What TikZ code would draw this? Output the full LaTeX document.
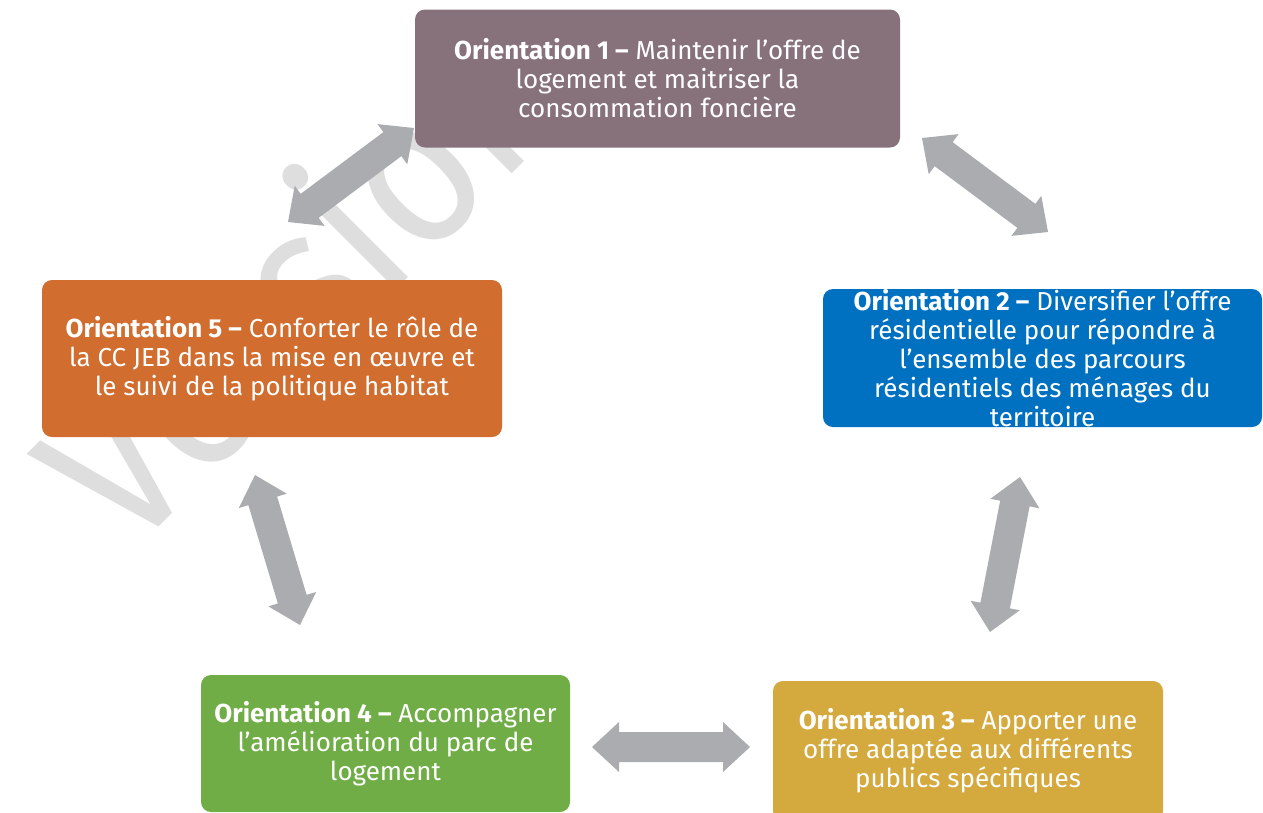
\documentclass[tikz,border=0pt]{standalone}
\usepackage{fontspec}
\setmainfont{Fira Sans}
\usetikzlibrary{calc}
\definecolor{cmauve}{HTML}{87717B}
\definecolor{cblue}{HTML}{0070C0}
\definecolor{cgold}{HTML}{D4A93D}
\definecolor{cgreen}{HTML}{70AD47}
\definecolor{corange}{HTML}{D06D2F}
\definecolor{carrow}{HTML}{ABACB0}
\definecolor{cwm}{HTML}{DEDEDE}
\newcommand\dblarr[2]{%
  \coordinate (h1) at ($(#1)!27pt!(#2)$);
  \coordinate (h2) at ($(#2)!27pt!(#1)$);
  \fill[arrowfill] (#1) -- ($(h1)!25pt!90:(#2)$) -- ($(h1)!15pt!90:(#2)$)
    -- ($(h2)!15pt!-90:(#1)$) -- ($(h2)!25pt!-90:(#1)$) -- (#2)
    -- ($(h2)!25pt!90:(#1)$) -- ($(h2)!15pt!90:(#1)$)
    -- ($(h1)!15pt!-90:(#2)$) -- ($(h1)!25pt!-90:(#2)$) -- cycle;
}
\begin{document}
\begin{tikzpicture}[x=1pt,y=-1pt,
  box/.style={rounded corners=10pt, inner sep=0pt, align=center, text=white,
    font=\fontsize{26}{29}\selectfont},
  arrowfill/.style={fill=carrow},
  wm/.style={text=cwm, font=\fontsize{210}{220}\selectfont, inner sep=0pt}]
\useasboundingbox (0,0) rectangle (1263,812);
% watermark
\node[wm, rotate=45, xscale=0.9, anchor=base west] (wmark) at (128,558) {Version};
% arrow end points
\coordinate (a1s) at (288,222); \coordinate (a1e) at (414,128);
\coordinate (a2s) at (922,138); \coordinate (a2e) at (1048,232);
\coordinate (a3s) at (1020,477); \coordinate (a3e) at (990,632);
\coordinate (a4s) at (592,747); \coordinate (a4e) at (750,747);
\coordinate (a5s) at (255,475); \coordinate (a5e) at (300,625);
\dblarr{a1s}{a1e}
\dblarr{a2s}{a2e}
\dblarr{a3s}{a3e}
\dblarr{a4s}{a4e}
\dblarr{a5s}{a5e}
% boxes
\node[box, fill=cmauve, minimum width=485pt, minimum height=138pt] (o1) at (657.5,78.5)
  {\textbf{Orientation 1 –} Maintenir l’offre de\\logement et maitriser la\\consommation foncière};
\node[box, fill=cblue, minimum width=439pt, minimum height=138pt] (o2) at (1042.5,358)
  {\textbf{Orientation 2 –} Diversifier l’offre\\résidentielle pour répondre à\\l'ensemble des parcours\\résidentiels des ménages du\\territoire};
\node[box, fill=cgold, minimum width=390pt, minimum height=140pt] (o3) at (968,751)
  {\textbf{Orientation 3 –} Apporter une\\offre adaptée aux différents\\publics spécifiques};
\node[box, fill=cgreen, minimum width=369pt, minimum height=137pt] (o4) at (385.5,743.5)
  {\textbf{Orientation 4 –} Accompagner\\l’amélioration du parc de\\logement};
\node[box, fill=corange, minimum width=460pt, minimum height=157pt] (o5) at (272,358.5)
  {\textbf{Orientation 5 –} Conforter le rôle de\\la CC JEB dans la mise en œuvre et\\le suivi de la politique habitat};
\end{tikzpicture}
\end{document}
